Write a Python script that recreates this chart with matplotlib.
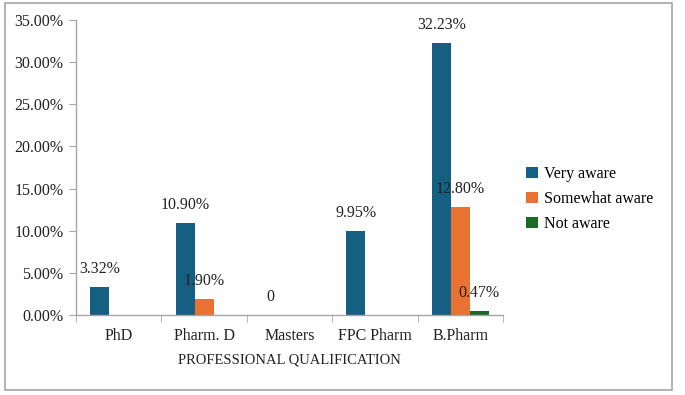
import matplotlib
matplotlib.use("Agg")
import matplotlib.pyplot as plt
import numpy as np
from matplotlib.patches import Rectangle

categories = ["PhD", "Pharm. D", "Masters", "FPC Pharm", "B.Pharm"]
very_aware = [3.32, 10.90, 0.0, 9.95, 32.23]
somewhat_aware = [None, 1.90, None, None, 12.80]
not_aware = [None, None, None, None, 0.47]
very_labels = ["3.32%", "10.90%", "0", "9.95%", "32.23%"]
somewhat_labels = [None, "1.90%", None, None, "12.80%"]
not_labels = [None, None, None, None, "0.47%"]
yticks = [0, 5, 10, 15, 20, 25, 30, 35]
ytick_labels = ["0.00%", "5.00%", "10.00%", "15.00%", "20.00%", "25.00%", "30.00%", "35.00%"]

colors = ["#156082", "#E97132", "#196B24"]
names = ["Very aware", "Somewhat aware", "Not aware"]

plt.rcParams['font.family'] = ['Liberation Serif', 'DejaVu Serif']
fs = 11.5

fig = plt.figure(figsize=(6.85, 3.95), dpi=100)
fig.patches.append(Rectangle((5/685, 5/395), 667/685, 387/395, transform=fig.transFigure,
                             fill=False, edgecolor="#A6A6A6", linewidth=1.2))
ax = fig.add_axes([76/685, 80/395, 427/685, 295/395])

x = np.arange(len(categories))
w = 0.222
series = [very_aware, somewhat_aware, not_aware]
labels = [very_labels, somewhat_labels, not_labels]
offsets = [-w, 0, w]
for s, lab, off, c, n in zip(series, labels, offsets, colors, names):
    xs = [xi + off for xi, v in zip(x, s) if v is not None]
    vs = [v for v in s if v is not None]
    ax.bar(xs, vs, width=w, color=c, label=n, edgecolor="none")
    for xi, v, l in zip(x, s, lab):
        if l is not None:
            ax.text(xi + off, v + 1.2, l, ha="center", va="bottom", fontsize=fs, color="#222222")

ax.set_xlim(-0.5, len(categories) - 0.5)
ax.set_ylim(0, 35)
ax.set_yticks(yticks)
ax.set_yticklabels(ytick_labels, fontsize=fs, color="#222222")
ax.set_xticks(x)
ax.set_xticklabels(categories, fontsize=fs, color="#222222")
ax.set_xticks(np.arange(len(categories) + 1) - 0.5, minor=True)
ax.tick_params(axis="x", which="major", length=0, pad=9)
ax.tick_params(axis="x", which="minor", length=5, color="#A6A6A6", direction="out")
ax.tick_params(axis="y", length=5, color="#A6A6A6", direction="out", pad=4)
for sp in ["top", "right"]:
    ax.spines[sp].set_visible(False)
for sp in ["left", "bottom"]:
    ax.spines[sp].set_color("#A6A6A6")
    ax.spines[sp].set_linewidth(1.0)
ax.set_xlabel("PROFESSIONAL QUALIFICATION", fontsize=10.5, color="#222222", labelpad=7)

ax.legend(loc="center left", frameon=False,
          fontsize=fs, handlelength=0.7, handleheight=0.7, handletextpad=0.4, labelspacing=0.55,
          borderaxespad=0)
leg = ax.get_legend()
leg.set_bbox_to_anchor((520/685, (395-199)/395), transform=fig.transFigure)

fig.savefig("out.png", dpi=100)
